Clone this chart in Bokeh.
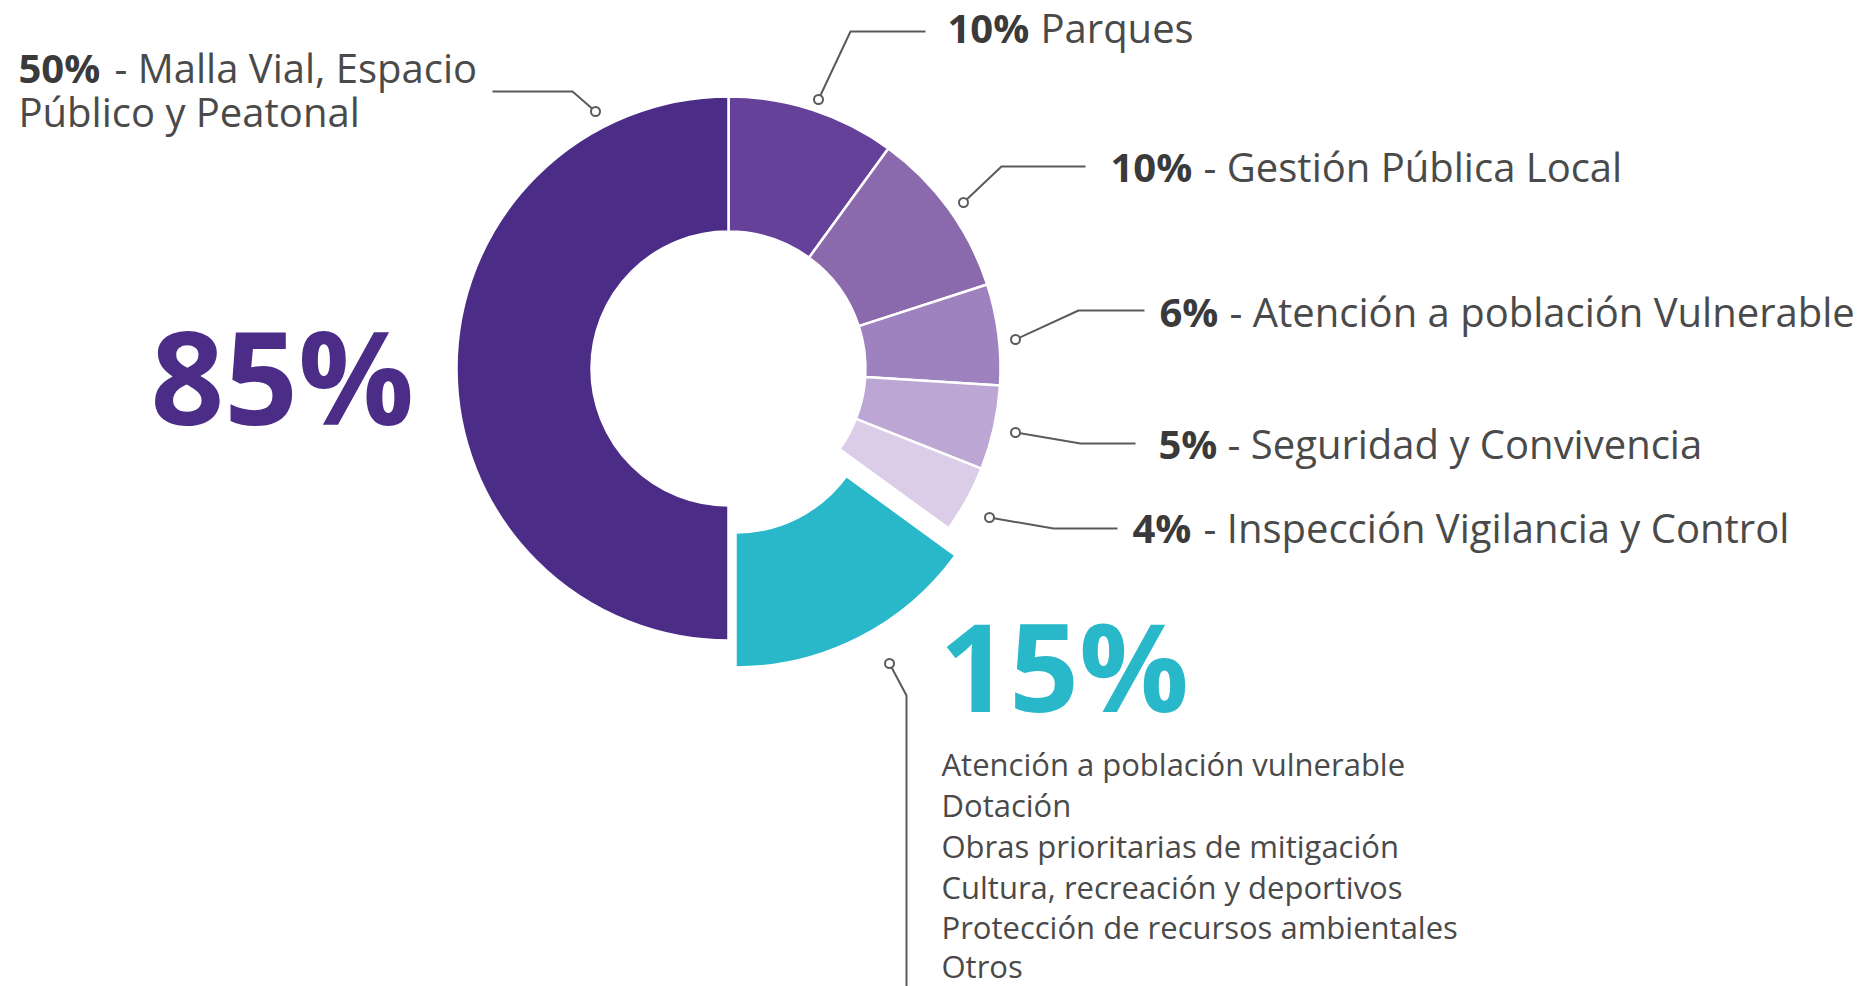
from bokeh.plotting import figure
from bokeh.models import Range1d
from bokeh.core.properties import value
from bokeh.embed import file_html
from bokeh.resources import INLINE
import numpy as np

# ---------------- data (clockwise from 12 o'clock) ----------------
categories = ["Parques", "Gestión Pública Local", "Atención a población Vulnerable",
              "Seguridad y Convivencia", "Inspección Vigilancia y Control", "Otros",
              "Malla Vial, Espacio Público y Peatonal"]
values = [10, 10, 6, 5, 4, 15, 50]
colors = ["#654199", "#8a6aad", "#9e81bf", "#bca6d3", "#dbcde8", "#29b8c9", "#4b2c87"]
pct_labels = ["10%", "10%", "6%", "5%", "4%", "15%", "50%"]
label_rest = ["Parques", "- Gestión Pública Local", "- Atención a población Vulnerable",
              "- Seguridad y Convivencia", "- Inspección Vigilancia y Control"]
malla_lines = ["- Malla Vial, Espacio", "Público y Peatonal"]
group_totals = ["85%", "15%"]
otros_items = ["Atención a población vulnerable", "Dotación", "Obras prioritarias de mitigación",
               "Cultura, recreación y deportivos", "Protección de recursos ambientales", "Otros"]

# ---------------- layout (screen px) ----------------
W, H = 1860, 986
CX, CY = 728, 368
R_OUT, R_IN = 272, 137
explode = {5: (7, 27)}  # teal slice offset (screen dx, dy)

FONT = value("Open Sans")
TXT = "#4a4a4a"
BOLD = "#3a3a3a"
LINE = "#5a5a5a"

p = figure(width=W, height=H, x_range=Range1d(0, W), y_range=Range1d(-H, 0),
           output_backend="svg", toolbar_location=None, x_axis_location=None,
           y_axis_location=None, min_border=0, outline_line_color=None)
p.grid.visible = False
p.background_fill_color = "white"
p.border_fill_color = "white"

vals = np.array(values, dtype=float)
cum = np.cumsum(vals)
frac = 360.0 / vals.sum()
a_start = 90 - frac * (cum - vals)   # clockwise start
a_end = 90 - frac * cum
for i in range(len(values)):
    dx, dy = explode.get(i, (0, 0))
    p.annular_wedge(x=CX + dx, y=-(CY + dy), inner_radius=R_IN, outer_radius=R_OUT,
                    start_angle=np.radians(a_end[i]), end_angle=np.radians(a_start[i]),
                    fill_color=colors[i], line_color="white", line_width=2.5)

# ---------------- leader lines ----------------
leaders = [
    [(595, 111), (572, 91), (492, 91)],          # Malla
    [(818, 99), (850, 31), (925, 31)],           # Parques
    [(963, 202), (1001, 166), (1085, 166)],      # Gestión
    [(1015, 339), (1078, 310), (1144, 310)],     # Atención
    [(1015, 432), (1080, 443), (1135, 443)],     # Seguridad
    [(989, 517), (1053, 528), (1117, 528)],      # Inspección
    [(889, 663), (906, 695), (906, 990)],        # Otros 15%
]
p.multi_line(xs=[[q[0] for q in l] for l in leaders], ys=[[-q[1] for q in l] for l in leaders],
             line_color=LINE, line_width=2)
p.scatter(x=[l[0][0] for l in leaders], y=[-l[0][1] for l in leaders], marker="circle",
          size=9, fill_color="white", line_color=LINE, line_width=2)

# ---------------- labels ----------------
FS = "40px"
# Malla (two lines)
p.text(x=[18], y=[-67], text=[pct_labels[6]], text_font=FONT, text_font_size=FS,
       text_font_style="bold", text_color=BOLD, text_baseline="middle")
p.text(x=[114], y=[-67], text=[malla_lines[0]], text_font=FONT, text_font_size=FS,
       text_color=TXT, text_baseline="middle")
p.text(x=[18], y=[-111], text=[malla_lines[1]], text_font=FONT, text_font_size=FS,
       text_color=TXT, text_baseline="middle")

pct_pos = [(947, 27), (1110, 166), (1159, 311), (1158, 443), (1132, 527)]
rest_pos = [(1040, 27), (1203, 166), (1229, 311), (1227, 443), (1203, 527)]
p.text(x=[q[0] for q in pct_pos], y=[-q[1] for q in pct_pos], text=pct_labels[:5],
       text_font=FONT, text_font_size=FS, text_font_style="bold", text_color=BOLD,
       text_baseline="middle")
p.text(x=[q[0] for q in rest_pos], y=[-q[1] for q in rest_pos], text=label_rest,
       text_font=FONT, text_font_size=FS, text_color=TXT, text_baseline="middle")

# big totals
p.text(x=[150], y=[-374], text=[group_totals[0]], text_font=FONT, text_font_size="129px",
       text_font_style="bold", text_color=colors[6], text_baseline="middle")
p.text(x=[939], y=[-664], text=[group_totals[1]], text_font=FONT, text_font_size="122px",
       text_font_style="bold", text_color=colors[5], text_baseline="middle")

# list of "otros"
list_y = [763, 804, 845, 886, 926, 965]
p.text(x=[941] * len(otros_items), y=[-v for v in list_y], text=otros_items,
       text_font=FONT, text_font_size="31px", text_color=TXT, text_baseline="middle")

open("out.html", "w").write(file_html(p, INLINE))
